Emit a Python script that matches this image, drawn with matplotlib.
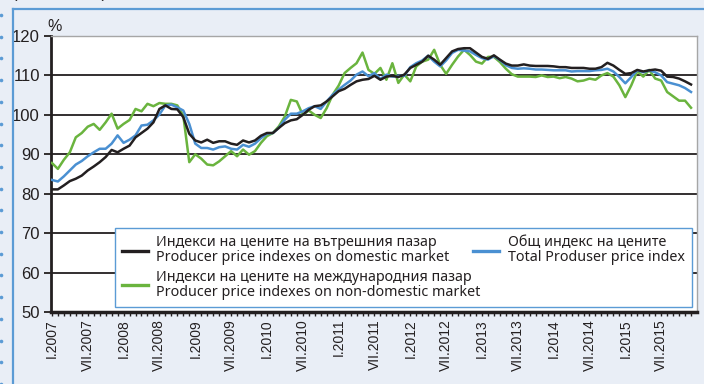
import matplotlib.pyplot as plt
from matplotlib.lines import Line2D
import numpy as np

# monthly indices, I.2007 .. XII.2015
months = np.arange(108)
years = range(2007, 2016)
tick_labels = [m + '.' + str(y) for y in years for m in ('I', 'VII')]

domestic = [81.1, 81.1, 82.1, 83.2, 83.8, 84.6, 85.9, 86.9, 88.0, 89.3,
            91.1, 90.5, 91.4, 92.2, 94.3, 95.4, 96.5, 98.1, 101.5, 102.4,
            101.5, 101.4, 99.4, 95.2, 93.5, 93.0, 93.7, 92.9, 93.3, 93.3,
            92.7, 92.4, 93.5, 93.0, 93.5, 94.7, 95.4, 95.4, 96.7, 97.9,
            98.6, 98.9, 100.0, 101.3, 102.2, 102.4, 103.4, 104.7, 106.0, 106.6,
            107.6, 108.5, 108.9, 109.1, 109.9, 108.9, 109.7, 109.9, 109.6, 110.2,
            111.9, 112.7, 113.5, 115.0, 114.0, 112.7, 114.4, 116.1, 116.7, 116.9,
            116.9, 115.8, 114.7, 114.2, 115.1, 114.0, 113.0, 112.5, 112.5, 112.8,
            112.5, 112.4, 112.4, 112.4, 112.3, 112.1, 112.1, 111.9, 111.9, 111.9,
            111.7, 111.7, 112.1, 113.2, 112.5, 111.4, 110.4, 110.6, 111.4, 111.0,
            111.3, 111.5, 111.2, 109.7, 109.6, 109.2, 108.5, 107.7]

non_domestic = [87.8, 86.3, 88.6, 90.5, 94.3, 95.4, 97.0, 97.7, 96.2, 98.1,
                100.3, 96.5, 97.7, 98.7, 101.5, 100.9, 102.8, 102.2, 103.0, 102.8,
                102.8, 102.4, 99.8, 88.0, 90.0, 88.9, 87.4, 87.2, 88.2, 89.5,
                90.8, 89.5, 91.2, 89.9, 90.8, 92.9, 94.6, 95.4, 97.1, 99.6,
                103.8, 103.4, 100.0, 101.1, 100.0, 99.2, 101.7, 105.1, 107.4, 110.6,
                111.9, 113.1, 115.8, 111.4, 110.4, 111.9, 108.9, 113.1, 108.1, 110.2,
                108.5, 112.3, 113.5, 114.0, 116.5, 112.7, 110.4, 112.7, 114.8, 116.5,
                115.2, 113.5, 113.0, 114.7, 114.7, 113.4, 111.7, 110.3, 109.7, 109.7,
                109.7, 109.6, 110.0, 109.6, 109.7, 109.3, 109.6, 109.2, 108.5, 108.7,
                109.2, 108.9, 110.0, 110.6, 109.7, 107.5, 104.5, 107.5, 111.1, 109.7,
                111.4, 109.2, 108.7, 105.8, 104.7, 103.6, 103.6, 101.8]

total = [83.5, 83.1, 84.4, 85.9, 87.4, 88.3, 89.5, 90.5, 91.4, 91.4,
         92.7, 94.8, 92.9, 93.7, 94.8, 97.3, 97.5, 98.6, 100.1, 102.4,
         102.6, 101.9, 101.1, 97.7, 92.7, 91.6, 91.6, 91.2, 91.8, 92.0,
         91.4, 91.2, 92.4, 91.9, 92.7, 94.1, 95.2, 95.4, 96.7, 98.8,
         100.3, 100.3, 100.9, 101.7, 102.2, 101.5, 103.4, 105.1, 106.4, 107.6,
         108.7, 110.2, 111.0, 109.8, 110.6, 109.1, 110.2, 109.7, 109.9, 109.9,
         112.1, 113.1, 113.8, 115.0, 113.5, 112.3, 113.8, 115.7, 116.5, 116.3,
         116.1, 115.2, 114.4, 114.0, 114.9, 113.9, 112.6, 111.9, 111.7, 111.8,
         111.7, 111.5, 111.5, 111.4, 111.3, 111.3, 111.3, 111.0, 111.1, 111.1,
         111.1, 111.3, 111.4, 111.7, 111.0, 109.6, 108.0, 109.6, 111.3, 110.8,
         111.3, 110.8, 110.0, 108.3, 107.9, 107.5, 106.8, 105.8]

labels = ['Индекси на цените на вътрешния пазар\nProducer price indexes on domestic market',
          'Индекси на цените на международния пазар\nProducer price indexes on non-domestic market',
          'Общ индекс на цените\nTotal Produser price index']

bg = '#e9eef6'
frame_blue = '#5b9bd5'
ink = '#231f20'

plt.rcParams['font.family'] = ['Liberation Sans', 'DejaVu Sans']

W, H = 704, 384
fig = plt.figure(figsize=(W / 100, H / 100), dpi=100, facecolor=bg)
ax = fig.add_axes([51 / W, 1 - 312 / H, (697 - 51) / W, (312 - 36) / H])
ax.set_facecolor('white')

l_green, = ax.plot(months, non_domestic, color='#6ab43e', lw=1.8, zorder=3)
l_blue, = ax.plot(months, total, color='#4a90d2', lw=1.8, zorder=4)
l_black, = ax.plot(months, domestic, color=ink, lw=1.8, zorder=5)

ax.set_xlim(-0.15, 108)
ax.set_ylim(50, 120)
ax.set_yticks(range(50, 121, 10))
ax.yaxis.grid(True, color=ink, lw=1.3)
ax.set_axisbelow(True)
ax.tick_params(axis='y', direction='out', length=5, width=1.3, labelsize=12,
               colors=ink, pad=3)

ax.set_xticks(months[::6])
ax.set_xticklabels(tick_labels, rotation=90, fontsize=10, color=ink)
ax.set_xticks(months, minor=True)
ax.tick_params(axis='x', which='both', direction='out', length=3, width=1,
               colors=ink, pad=2)

for s in ('top', 'right'):
    ax.spines[s].set_color('#a6a6a6')
    ax.spines[s].set_linewidth(1)
ax.spines['left'].set_linewidth(2)
ax.spines['bottom'].set_linewidth(2.5)
ax.spines['left'].set_color(ink)
ax.spines['bottom'].set_color(ink)

leg = ax.legend([l_black, l_green, l_blue], labels, ncol=2, mode='expand',
                loc='lower left', bbox_to_anchor=(0.099, 0.018, 0.893, 0.294),
                borderaxespad=0, fancybox=False, framealpha=1,
                edgecolor=frame_blue, handlelength=1.8,
                handletextpad=0.6, labelspacing=0.3, borderpad=0.5,
                columnspacing=0.3, prop={'family': ['Noto Sans', 'DejaVu Sans'], 'size': 10.3})
leg.get_frame().set_linewidth(1)
for t in leg.get_texts():
    t.set_color(ink)
    t.set_linespacing(1.02)
for h in leg.get_lines():
    h.set_linewidth(2.4)

fig.text(47 / W, 1 - 31 / H, '%', fontsize=11.5, color=ink)

# page decoration: blue frame and dotted margin
fig.add_artist(Line2D([13 / W, 13 / W], [0, 1 - 9 / H], color=frame_blue, lw=1.6))
fig.add_artist(Line2D([13 / W, 1], [1 - 9 / H, 1 - 9 / H], color=frame_blue, lw=1.6))
dots_y = 1 - np.arange(15, H, 21.7) / H
fig.add_artist(Line2D(np.full(len(dots_y), 1 / W), dots_y, ls='none', marker='o',
                      ms=2.6, color=frame_blue, mec='none'))
fig.text(12 / W, 1 + 2 / H, '(2010 = 100)', fontsize=12, color=ink, va='baseline')

fig.savefig('out.png', dpi=100, facecolor=bg)
